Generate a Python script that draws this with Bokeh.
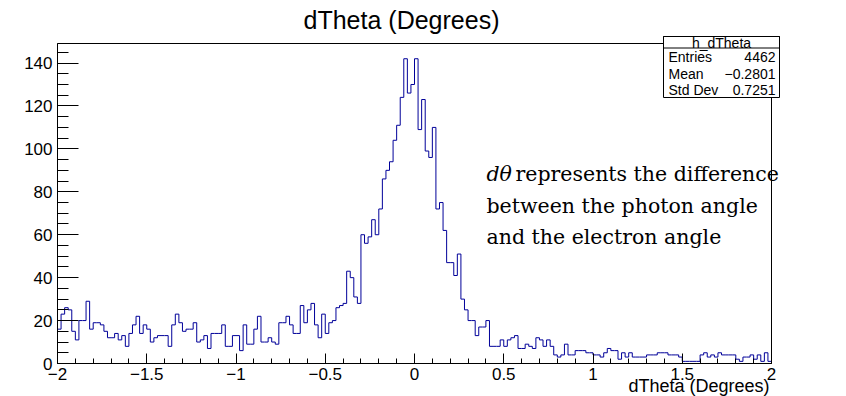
import numpy as np
from bokeh.plotting import figure
from bokeh.models import Label, BoxAnnotation, FixedTicker, LinearAxis, Range1d
from bokeh.embed import file_html
from bokeh.resources import INLINE

# ---- histogram h_dTheta: 200 bins from -2 to 2 degrees ----
x_lo, x_hi = -2.0, 2.0
counts = [
    16, 23, 26, 25, 15, 11, 20, 20, 29, 16, 19, 19, 18, 15, 12, 12, 14, 11, 13, 8,
    14, 18, 22, 14, 18, 16, 10, 12, 13, 13, 13, 8, 18,
    23, 19, 15, 16, 16, 19, 10, 11, 13, 7, 14, 14, 14, 18, 8, 8, 13, 13, 6, 18, 9,
    9, 16, 22, 10, 10, 12, 10, 9, 19, 19, 22, 18, 14, 14,
    27, 19, 25, 28, 18, 12, 23, 14, 19, 20, 26, 27, 28, 43, 40, 31, 28, 60, 56, 59,
    67, 60,
    72, 86, 90, 94, 104, 111, 124, 142, 126, 130, 142, 109, 123, 99, 96, 110, 72, 75,
    62, 47, 47, 41, 51, 30, 25, 20,
    20, 13, 17, 17, 20, 8, 8, 8, 11, 8, 11, 12, 13, 7, 7, 9, 8, 7, 12, 11, 8, 11, 8,
    4, 3, 4, 9, 4, 4, 6, 6,
    6, 5, 5, 4, 4, 3, 5, 7, 6, 6, 2, 5, 3, 5, 3, 3, 3, 3, 4, 4,
    4, 5, 5, 5, 4, 4, 4, 3, 1, 1, 1, 1, 1, 4, 5, 3, 4, 3, 5, 4,
    4, 4, 4, 2, 1, 3, 3, 4, 2, 4, 1, 5, 1,
]
hist_name = "h_dTheta"
title_text = "dTheta (Degrees)"
stat_names = ["Entries", "Mean", "Std Dev"]
stat_values = [str(sum(counts)), "\u22120.2801", "0.7251"]
x_major = [-2, -1.5, -1, -0.5, 0, 0.5, 1, 1.5, 2]
x_major_labels = ["\u22122", "\u22121.5", "\u22121", "\u22120.5", "0", "0.5", "1", "1.5", "2"]
y_major = [0, 20, 40, 60, 80, 100, 120, 140]
note_lines = ["represents the difference", "between the photon angle", "and the electron angle"]

n_bins = len(counts)
edges = np.linspace(x_lo, x_hi, n_bins + 1)
y_max = 1.05 * max(counts)

# canvas size and the pixel box that holds the histogram frame
W, H = 846, 396
FL, FR, FT, FB = 57, 771, 43, 363
kx = (FR - FL) / (x_hi - x_lo)      # px per degree
ky = (FB - FT) / y_max              # px per entry

# the plotting area covers the whole canvas; axes are pinned at the frame edges
p = figure(width=W, height=H, output_backend="svg", toolbar_location=None,
           x_range=Range1d(x_lo - FL / kx, x_hi + (W - FR) / kx),
           y_range=Range1d(-(H - FB) / ky, y_max + FT / ky),
           x_axis_location=None, y_axis_location=None,
           min_border=0, background_fill_color="white", border_fill_color="white")
p.xgrid.visible = False
p.ygrid.visible = False
p.outline_line_color = None


def cx(sx):
    """canvas x pixel -> data x"""
    return x_lo + (sx - FL) / kx


def cy(sy):
    """canvas y pixel -> data y"""
    return (FB - sy) / ky


SANS = "Liberation Sans"

# frame rectangle
p.add_layout(BoxAnnotation(left=x_lo, right=x_hi, bottom=0, top=y_max, fill_alpha=0.0,
                           line_color="black", line_alpha=1.0, line_width=1, level="underlay"))

# x axis: ticks pointing into the frame
xa = LinearAxis(fixed_location=0, bounds=(x_lo, x_hi))
xa.ticker = FixedTicker(ticks=x_major, minor_ticks=list(np.round(np.arange(-2.0, 2.001, 0.1), 2)))
xa.major_label_overrides = {float(v): s for v, s in zip(x_major, x_major_labels)}
xa.major_tick_in, xa.major_tick_out = 10, 0
xa.minor_tick_in, xa.minor_tick_out = 5, 0
xa.major_label_standoff = 4
xa.major_label_text_font = SANS
xa.major_label_text_font_size = "17px"
xa.major_label_text_color = "black"
xa.axis_line_color = "black"
p.add_layout(xa, "below")

ya = LinearAxis(fixed_location=x_lo, bounds=(0, y_max))
ya.ticker = FixedTicker(ticks=y_major, minor_ticks=list(range(0, 150, 5)))
ya.major_tick_in, ya.major_tick_out = 21, 0
ya.minor_tick_in, ya.minor_tick_out = 11, 0
ya.major_label_standoff = 5
ya.major_label_text_font = SANS
ya.major_label_text_font_size = "17px"
ya.major_label_text_color = "black"
ya.axis_line_color = "black"
p.add_layout(ya, "left")

# histogram outline
p.step(x=list(edges), y=counts + [counts[-1]], mode="after",
       line_color="#000099", line_width=1)


def put_text(sx, sy, text, **kw):
    kw.setdefault("text_color", "black")
    kw.setdefault("level", "overlay")
    p.add_layout(Label(x=cx(sx), y=cy(sy), text=text, **kw))


def put_box(l, r, t, b, **kw):
    kw.setdefault("level", "overlay")
    p.add_layout(BoxAnnotation(left=cx(l), right=cx(r), top=cy(t), bottom=cy(b), **kw))


# title and axis title
put_text(401, 19, title_text, text_align="center", text_baseline="middle",
         text_font=SANS, text_font_size="25px")
put_text(769, 385, title_text, text_align="right", text_baseline="middle",
         text_font=SANS, text_font_size="18px")

# statistics box
box_l, box_r, box_t, box_hdr, box_b = 663, 779, 36, 47.5, 97
put_box(box_l, box_r, box_t, box_b, fill_color="white", fill_alpha=1.0,
        line_color="black", line_alpha=1.0, line_width=1)
put_box(box_l, box_r, box_t, box_hdr, fill_alpha=0.0,
        line_color="black", line_alpha=1.0, line_width=1)
put_text((box_l + box_r) / 2, 42, hist_name, text_align="center", text_baseline="middle",
         text_font=SANS, text_font_size="14px")
for i, (nm, val) in enumerate(zip(stat_names, stat_values)):
    yy = 56.5 + i * 16.5
    put_text(668, yy, nm, text_align="left", text_baseline="middle",
             text_font=SANS, text_font_size="14px")
    put_text(775, yy, val, text_align="right", text_baseline="middle",
             text_font=SANS, text_font_size="14px")

# explanatory note
SERIF = "DejaVu Serif"
put_text(486, 173, "d\u03b8", text_font=SERIF, text_font_style="italic",
         text_font_size="20.5px", text_baseline="alphabetic", level="annotation")
put_text(515, 173, note_lines[0], text_font=SERIF,
         text_font_size="20.5px", text_baseline="alphabetic", level="annotation")
for i, line in enumerate(note_lines[1:]):
    put_text(486, 205 + 31.5 * i, line, text_font=SERIF,
             text_font_size="20.5px", text_baseline="alphabetic", level="annotation")

open("out.html", "w").write(file_html(p, INLINE))
